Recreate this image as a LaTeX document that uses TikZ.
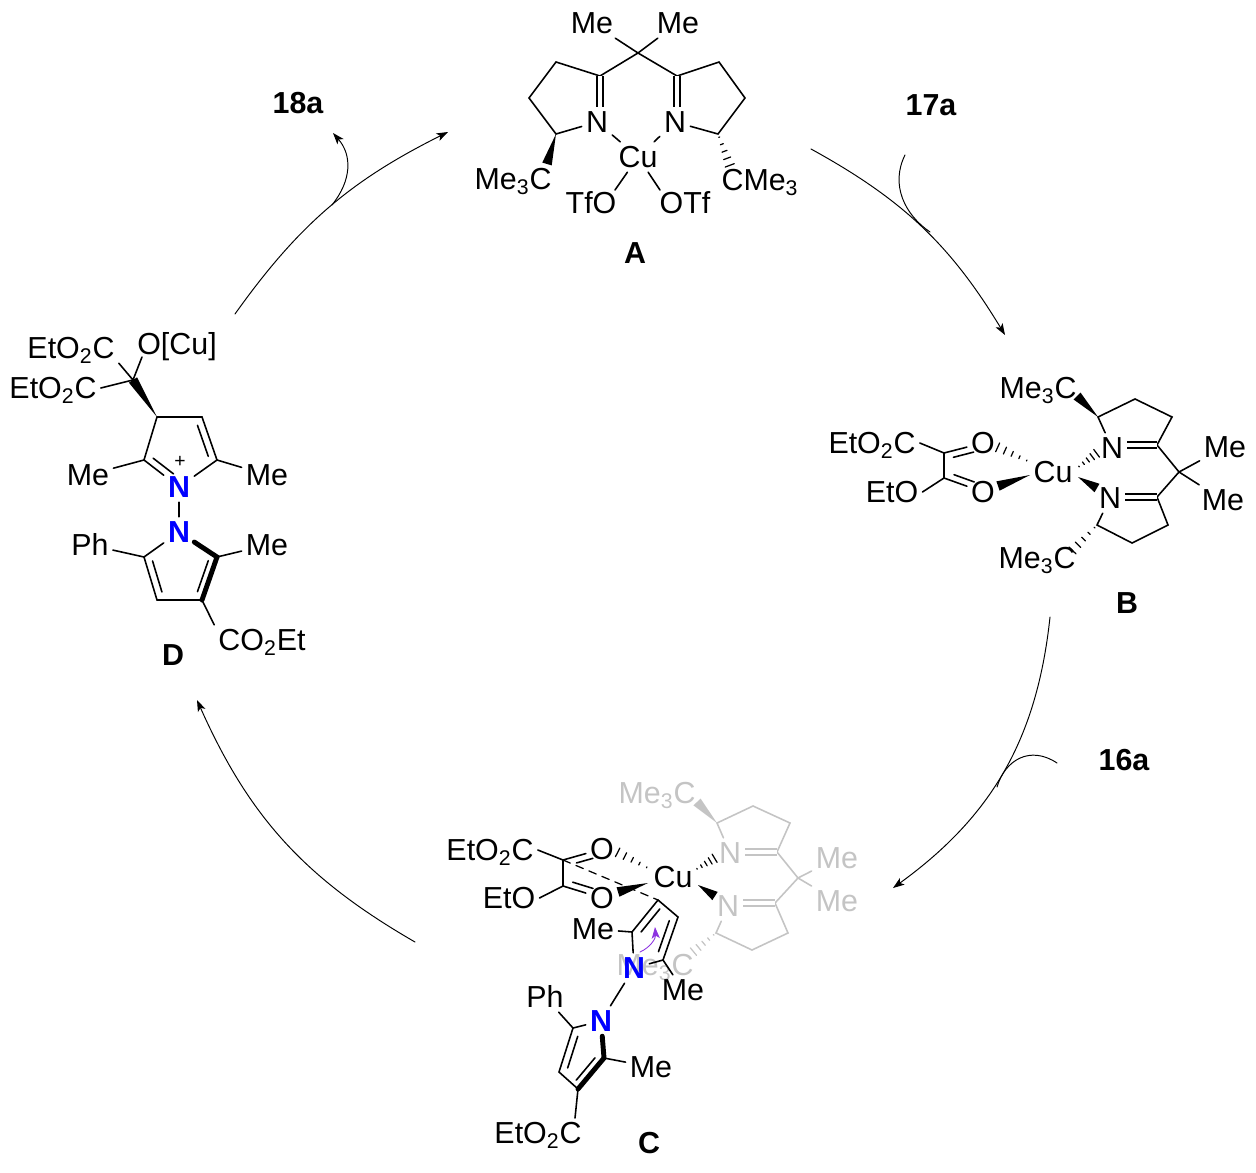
\documentclass[tikz,border=0pt]{standalone}
\usepackage{fontspec}
\setmainfont{Liberation Sans}
\usetikzlibrary{arrows.meta,calc}

\definecolor{fadegrey}{gray}{0.77}
\definecolor{pushviolet}{RGB}{140,50,225}

\newcommand{\wedgebond}[3][black]{\fill[#1] (#2) -- ($(#3)!2.8pt!90:(#2)$) -- ($(#3)!2.8pt!-90:(#2)$) -- cycle;}
\newcommand{\hashbond}[3][black]{\foreach \t in {.1,.32,.54,.76,.98}{
    \pgfmathsetmacro\hw{\t*2.8}
    \draw[#1,line width=.7pt] ($(#2)!\t!(#3)!\hw pt!90:(#3)$) -- ($(#2)!\t!(#3)!\hw pt!-90:(#3)$);}}
\newcommand{\inbond}[5]{\draw ($(#1)!#4!(#2)!#3!90:(#2)$) -- ($(#1)!#5!(#2)!#3!90:(#2)$);}

\begin{document}
\begin{tikzpicture}[x=0.02cm,y=-0.02cm,line width=.9pt,line cap=round,>={Stealth[length=6.5pt,width=4.6pt,inset=1.6pt]}]
      \tikzstyle{atom}=[inner sep=2pt,font=\fontsize{17.3}{19}\selectfont,text height=12.4pt,text depth=0pt]
      \tikzstyle{faded}=[atom,text=fadegrey]
      \tikzstyle{nitro}=[atom,text=blue,font=\fontsize{17.3}{19}\selectfont\bfseries]
      \tikzstyle{tag}=[atom,font=\fontsize{17.3}{19}\selectfont\bfseries]
      \tikzstyle{dbl}=[double,double distance=2.5pt,line cap=butt]
      \tikzstyle{thickbond}=[line width=2.8pt]
      \tikzstyle{cycle}=[->,line width=.55pt]
      \useasboundingbox (0,0) rectangle (1256,1172);

      \coordinate (CycAs) at (811,149);
      \coordinate (CycAe) at (1005,335);
      \coordinate (CycBs) at (1050,617);
      \coordinate (CycBe) at (893,888);
      \coordinate (CycCs) at (415,942);
      \coordinate (CycCe) at (197,700);
      \coordinate (CycDs) at (235,314);
      \coordinate (CycDe) at (448,132);
      \coordinate (InAs) at (905,155);
      \coordinate (InAe) at (930,232);
      \coordinate (InBs) at (1057,763);
      \coordinate (InBe) at (997,787);
      \coordinate (OutDs) at (332,205);
      \coordinate (OutDe) at (333,133);

      \path[cycle] (CycAs) edge [bend left=15] (CycAe)
            (CycBs) edge [bend left=24] (CycBe)
            (CycCs) edge [bend left=18] (CycCe)
            (CycDs) edge [bend left=14] (CycDe);
      \draw[line width=.55pt] (InAs) .. controls (890,185) and (905,215) .. (InAe);
      \draw[line width=.55pt] (InBs) .. controls (1030,745) and (1005,760) .. (InBe);
      \draw[cycle] (OutDs) .. controls (352,180) and (352,155) .. (OutDe);

      \node[tag] (Lb18a) at (298,103) {18a};
      \node[tag] (Lb17a) at (931,105) {17a};
      \node[tag] (Lb16a) at (1124,760) {16a};

      \node[atom] (AMel) at (592,23) {Me};
      \node[atom] (AMer) at (678,23) {Me};
      \node[atom] (ANl) at (597,122) {N};
      \node[atom] (ANr) at (675,122) {N};
      \node[atom] (ACu) at (638,157) {Cu};
      \node[atom] (AGl) at (513,179) {Me\textsubscript{3}C};
      \node[atom] (AGr) at (760,180) {CMe\textsubscript{3}};
      \node[atom] (ATl) at (591,203) {TfO};
      \node[atom] (ATr) at (685,203) {OTf};
      \node[tag] (LbA) at (635,253) {A};
      \coordinate (AQ) at (638,53);
      \coordinate (ACl) at (600,76);
      \coordinate (ACr) at (677,76);
      \coordinate (ARa) at (556,62);
      \coordinate (ARb) at (529,98);
      \coordinate (ARc) at (556,134);
      \coordinate (ARd) at (719,62);
      \coordinate (ARe) at (745,98);
      \coordinate (ARf) at (718,134);
      \coordinate (AWe) at (547,164);
      \coordinate (AHe) at (730,166);
      \coordinate (AOl) at (615,190);
      \coordinate (AOr) at (660,190);

      \draw (AMel) -- (AQ) -- (AMer);
      \draw (ACl) -- (AQ) -- (ACr);
      \draw (ACl) -- (ARa) -- (ARb) -- (ARc) -- (ANl) -- (ACu) -- (ANr) -- (ARf) -- (ARe) -- (ARd) -- (ACr);
      \draw[dbl] (ACl) -- (ACl |- ANl.north);
      \draw[dbl] (ACr) -- (ACr |- ANr.north);
      \draw (ACu) -- (AOl);
      \draw (ACu) -- (AOr);
      \wedgebond{ARc}{AWe}
      \hashbond{ARf}{AHe}

      \node[atom] (BGa) at (1038,388) {Me\textsubscript{3}C};
      \node[atom] (BNa) at (1112,448) {N};
      \node[atom] (BNb) at (1110,498) {N};
      \node[atom] (BMea) at (1225,447) {Me};
      \node[atom] (BMeb) at (1223,500) {Me};
      \node[atom] (BCu) at (1053,472) {Cu};
      \node[atom] (BOa) at (983,443) {O};
      \node[atom] (BOb) at (983,492) {O};
      \node[atom] (BEa) at (872,443) {EtO\textsubscript{2}C};
      \node[atom] (BEb) at (892,492) {EtO};
      \node[atom] (BGb) at (1037,558) {Me\textsubscript{3}C};
      \node[tag] (LbB) at (1127,603) {B};
      \coordinate (BRa) at (1098,417);
      \coordinate (BRb) at (1135,399);
      \coordinate (BRc) at (1172,417);
      \coordinate (BCa) at (1157,445);
      \coordinate (BQ) at (1179,472);
      \coordinate (BCb) at (1157,497);
      \coordinate (BRd) at (1097,525);
      \coordinate (BRe) at (1132,543);
      \coordinate (BRf) at (1168,525);
      \coordinate (BCta) at (944,453);
      \coordinate (BCtb) at (944,478);
      \coordinate (BWa) at (1077,396);
      \coordinate (BHa) at (1072,551);
      \coordinate (BOhs) at (1030,462);
      \coordinate (BOhe) at (997,447);
      \coordinate (BOws) at (1030,475);
      \coordinate (BOwe) at (998,486);
      \coordinate (BNhs) at (1077,468);
      \coordinate (BNhe) at (1097,453);
      \coordinate (BNws) at (1078,477);
      \coordinate (BNwe) at (1097,488);

      \draw (BNa) -- (BRa) -- (BRb) -- (BRc) -- (BCa) -- (BQ) -- (BCb) -- (BRf) -- (BRe) -- (BRd) -- (BNb);
      \draw (BMea) -- (BQ) -- (BMeb);
      \draw[dbl] (BCa) -- (BCa -| BNa.east);
      \draw[dbl] (BCb) -- (BCb -| BNb.east);
      \draw (BEa.east) -- (BCta) -- (BCtb) -- (BEb.east);
      \draw (BCta) -- (BOa);
      \draw (BCtb) -- (BOb);
      \inbond{BCta}{BOa}{-3.7pt}{.2}{.72}
      \inbond{BCtb}{BOb}{3.7pt}{.2}{.72}
      \wedgebond{BRa}{BWa}
      \hashbond{BRd}{BHa}
      \hashbond{BOhs}{BOhe}
      \hashbond{BNhs}{BNhe}
      \wedgebond{BOws}{BOwe}
      \wedgebond{BNws}{BNwe}

      \node[faded] (CGa) at (657,793) {Me\textsubscript{3}C};
      \node[faded] (CNa) at (730,853) {N};
      \node[faded] (CNb) at (728,906) {N};
      \node[faded] (CMea) at (837,858) {Me};
      \node[faded] (CMeb) at (837,901) {Me};
      \node[faded] (CGb) at (655,965) {Me\textsubscript{3}C};
      \coordinate (CRa) at (717,823);
      \coordinate (CRb) at (753,806);
      \coordinate (CRc) at (790,823);
      \coordinate (CCa) at (777,852);
      \coordinate (CQ) at (798,878);
      \coordinate (CCb) at (775,903);
      \coordinate (CRd) at (716,933);
      \coordinate (CRe) at (752,950);
      \coordinate (CRf) at (788,933);
      \coordinate (CWa) at (697,802);
      \coordinate (CHa) at (693,952);
      \coordinate (COhs) at (650,869);
      \coordinate (COhe) at (617,852);
      \coordinate (COws) at (648,883);
      \coordinate (COwe) at (618,892);
      \coordinate (CNhs) at (695,870);
      \coordinate (CNhe) at (715,858);
      \coordinate (CNws) at (698,885);
      \coordinate (CNwe) at (715,896);

      \draw[fadegrey] (CNa) -- (CRa) -- (CRb) -- (CRc) -- (CCa) -- (CQ) -- (CCb) -- (CRf) -- (CRe) -- (CRd) -- (CNb);
      \draw[fadegrey] (CMea) -- (CQ) -- (CMeb);
      \draw[dbl,fadegrey] (CCa) -- (CCa -| CNa.east);
      \draw[dbl,fadegrey] (CCb) -- (CCb -| CNb.east);
      \wedgebond[fadegrey]{CRa}{CWa}
      \hashbond[fadegrey]{CRd}{CHa}

      \node[atom] (CCu) at (673,877) {Cu};
      \node[atom] (COa) at (602,849) {O};
      \node[atom] (COb) at (602,898) {O};
      \node[atom] (CEa) at (490,850) {EtO\textsubscript{2}C};
      \node[atom] (CEb) at (509,898) {EtO};
      \node[atom] (CMec) at (593,929) {Me};
      \node[atom] (CMed) at (683,990) {Me};
      \node[nitro] (CNc) at (634,968) {N};
      \node[nitro] (CNd) at (601,1021) {N};
      \node[atom] (CPh) at (545,997) {Ph};
      \node[atom] (CMee) at (651,1067) {Me};
      \node[atom] (CEc) at (538,1133) {EtO\textsubscript{2}C};
      \node[tag] (LbC) at (649,1143) {C};
      \coordinate (CCta) at (563,860);
      \coordinate (CCtb) at (563,886);
      \coordinate (CPa) at (658,900);
      \coordinate (CPb) at (678,917);
      \coordinate (CPc) at (663,960);
      \coordinate (CPd) at (632,932);
      \coordinate (CSa) at (573,1028);
      \coordinate (CSb) at (559,1072);
      \coordinate (CSc) at (578,1089);
      \coordinate (CSd) at (604,1058);
      \coordinate (CEe) at (575,1118);
      \coordinate (CArs) at (640,952);
      \coordinate (CAre) at (655,927);

      \draw (CEa.east) -- (CCta) -- (CCtb) -- (CEb.east);
      \draw (CCta) -- (COa);
      \draw (CCtb) -- (COb);
      \inbond{CCta}{COa}{-3.7pt}{.3}{.72}
      \inbond{CCtb}{COb}{3.7pt}{.2}{.72}
      \draw[line width=.7pt,dash pattern=on 4.5pt off 3.5pt] (CCta) -- (CPa);
      \hashbond{COhs}{COhe}
      \hashbond{CNhs}{CNhe}
      \wedgebond{COws}{COwe}
      \wedgebond{CNws}{CNwe}
      \draw (CPd) -- (CPa) -- (CPb) -- (CPc) -- (CNc) -- (CPd);
      \draw (CPd) -- (CMec);
      \draw (CPc) -- (CMed);
      \inbond{CPa}{CPd}{4pt}{.14}{.86}
      \inbond{CPc}{CPb}{4pt}{.14}{.86}
      \draw (CNc) -- (CNd);
      \draw (CNd) -- (CSa) -- (CSb) -- (CSc);
      \draw (CPh) -- (CSa);
      \draw[thickbond] (CNd) -- (CSd) -- (CSc);
      \draw (CSd) -- (CMee);
      \draw (CSc) -- (CEe);
      \inbond{CSa}{CSb}{4pt}{.14}{.86}
      \inbond{CSc}{CSd}{4pt}{.14}{.86}
      \draw[->,pushviolet,line width=.5pt] (CArs) to [bend right=35] (CAre);

      \node[atom] (DEa) at (71,348) {EtO\textsubscript{2}C};
      \node[atom] (DOc) at (177,344) {O[Cu]};
      \node[atom] (DEb) at (53,388) {EtO\textsubscript{2}C};
      \node[atom] (DMea) at (88,475) {Me};
      \node[atom] (DMeb) at (267,475) {Me};
      \node[nitro] (DNa) at (179,487) {N};
      \node[atom,font=\fontsize{11}{12}\selectfont,text height=7pt,inner sep=0pt] (Dplus) at (180,461) {+};
      \node[nitro] (DNb) at (179,532) {N};
      \node[atom] (DPh) at (90,545) {Ph};
      \node[atom] (DMec) at (267,545) {Me};
      \node[atom] (DGe) at (262,640) {CO\textsubscript{2}Et};
      \node[tag] (LbD) at (173,655) {D};
      \coordinate (DQ) at (133,380);
      \coordinate (DOe) at (142,357);
      \coordinate (DRa) at (157,417);
      \coordinate (DRb) at (202,417);
      \coordinate (DRc) at (217,460);
      \coordinate (DRd) at (144,460);
      \coordinate (DSa) at (144,557);
      \coordinate (DSb) at (157,600);
      \coordinate (DSc) at (202,600);
      \coordinate (DSd) at (217,557);

      \draw (DEa.south east) -- (DQ) -- (DOe);
      \draw (DEb.east) -- (DQ);
      \wedgebond{DRa}{DQ}
      \draw (DRd) -- (DRa) -- (DRb) -- (DRc) -- (DNa) -- (DRd);
      \draw (DMea) -- (DRd);
      \draw (DMeb) -- (DRc);
      \inbond{DRc}{DRb}{4pt}{.14}{.86}
      \inbond{DRd}{DNa}{4pt}{.14}{.72}
      \draw (DNa) -- (DNb);
      \draw (DNb) -- (DSa) -- (DSb) -- (DSc);
      \draw (DPh) -- (DSa);
      \draw[thickbond] (DNb) -- (DSd) -- (DSc);
      \draw (DMec) -- (DSd);
      \draw (DSc) -- (DGe.north west);
      \inbond{DSa}{DSb}{4pt}{.14}{.86}
      \inbond{DSc}{DSd}{4pt}{.14}{.86}
    \end{tikzpicture}
\end{document}
